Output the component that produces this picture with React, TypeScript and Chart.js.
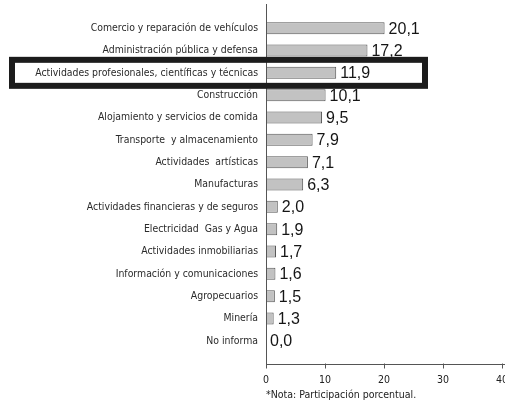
import { useEffect, useRef } from "react";
import { Chart, registerables } from "chart.js";

Chart.register(...registerables);

const categories = [
  "Comercio y reparación de vehículos",
  "Administración pública y defensa",
  "Actividades profesionales, científicas y técnicas",
  "Construcción",
  "Alojamiento y servicios de comida",
  "Transporte  y almacenamiento",
  "Actividades  artísticas",
  "Manufacturas",
  "Actividades financieras y de seguros",
  "Electricidad  Gas y Agua",
  "Actividades inmobiliarias",
  "Información y comunicaciones",
  "Agropecuarios",
  "Minería",
  "No informa",
];
const values = [20.1, 17.2, 11.9, 10.1, 9.5, 7.9, 7.1, 6.3, 2.0, 1.9, 1.7, 1.6, 1.5, 1.3, 0.0];
const xTicks = [0, 10, 20, 30, 40];
const highlighted = "Actividades profesionales, científicas y técnicas";
const note = "*Nota: Participación porcentual.";

const NARROW = '"Liberation Sans Narrow", "DejaVu Sans Condensed", "Liberation Sans", Arial, sans-serif';
const REGULAR = '"Liberation Sans", Arial, sans-serif';

const fmt = (v: number) => v.toFixed(1).replace(".", ",");

export default function App() {
  const ref = useRef<HTMLCanvasElement | null>(null);

  useEffect(() => {
    if (!ref.current) return;

    const decorations = {
      id: "decorations",
      afterDatasetsDraw(chart: any) {
        const { ctx } = chart;
        const meta = chart.getDatasetMeta(0);
        ctx.save();
        ctx.font = `16px ${REGULAR}`;
        ctx.fillStyle = "#151515";
        ctx.textAlign = "left";
        ctx.textBaseline = "middle";
        meta.data.forEach((el: any, i: number) => {
          ctx.fillText(fmt(values[i]), el.x + 4, el.y + 1);
        });
        ctx.restore();
      },
      afterDraw(chart: any) {
        const { ctx, chartArea, scales } = chart;
        const { left, right, top, bottom } = chartArea;
        const axisY = Math.round(bottom + 12) + 0.5;
        ctx.save();
        ctx.strokeStyle = "#555";
        ctx.lineWidth = 1;
        ctx.beginPath();
        ctx.moveTo(Math.round(left) + 0.5, top - 13);
        ctx.lineTo(Math.round(left) + 0.5, axisY);
        ctx.stroke();
        ctx.beginPath();
        ctx.moveTo(left, axisY);
        ctx.lineTo(right + 6, axisY);
        ctx.stroke();
        xTicks.forEach((t) => {
          const px = Math.round(scales.x.getPixelForValue(t)) + 0.5;
          ctx.beginPath();
          ctx.moveTo(px, axisY - 1);
          ctx.lineTo(px, axisY + 4);
          ctx.stroke();
        });
        const idx = categories.indexOf(highlighted);
        if (idx >= 0) {
          const cy = scales.y.getPixelForValue(idx);
          ctx.strokeStyle = "#1c1c1c";
          ctx.lineWidth = 6;
          ctx.strokeRect(12, cy - 13, 413, 26);
        }
        ctx.restore();
      },
    };

    const chart = new Chart(ref.current, {
      type: "bar",
      data: {
        labels: categories,
        datasets: [
          {
            data: values,
            backgroundColor: "#c2c2c2",
            borderColor: "#555",
            borderWidth: 1,
            barPercentage: 0.54,
            categoryPercentage: 1,
          },
        ],
      },
      options: {
        indexAxis: "y",
        animation: false,
        responsive: false,
        maintainAspectRatio: false,
        layout: { padding: { top: 17, right: 11, left: 0, bottom: 0 } },
        plugins: { legend: { display: false }, tooltip: { enabled: false } },
        scales: {
          x: {
            min: 0,
            max: 40,
            afterFit: (s: any) => {
              s.height = 56;
            },
            afterBuildTicks: (s: any) => {
              s.ticks = xTicks.map((v) => ({ value: v }));
            },
            grid: { display: false, drawTicks: false },
            border: { display: false },
            ticks: {
              padding: 22,
              color: "#222",
              font: { family: NARROW, size: 10.5 },
              maxRotation: 0,
            },
            title: {
              display: true,
              text: note,
              align: "start",
              color: "#222",
              font: { family: NARROW, size: 10.5 },
              padding: { top: 0, bottom: 6 },
            },
          },
          y: {
            afterFit: (s: any) => {
              s.width = 266;
            },
            grid: { display: false, drawTicks: false },
            border: { display: false },
            ticks: {
              padding: 8,
              color: "#2a2a2a",
              font: { family: NARROW, size: 10.4 },
              autoSkip: false,
            },
          },
        },
      },
      plugins: [decorations],
    } as any);

    return () => chart.destroy();
  }, []);

  return (
    <div
      style={{
        position: "fixed",
        left: 0,
        top: 0,
        width: 505,
        height: 408,
        overflow: "hidden",
        background: "#fff",
      }}
    >
      <canvas ref={ref} width={530} height={408} style={{ display: "block" }} />
    </div>
  );
}
